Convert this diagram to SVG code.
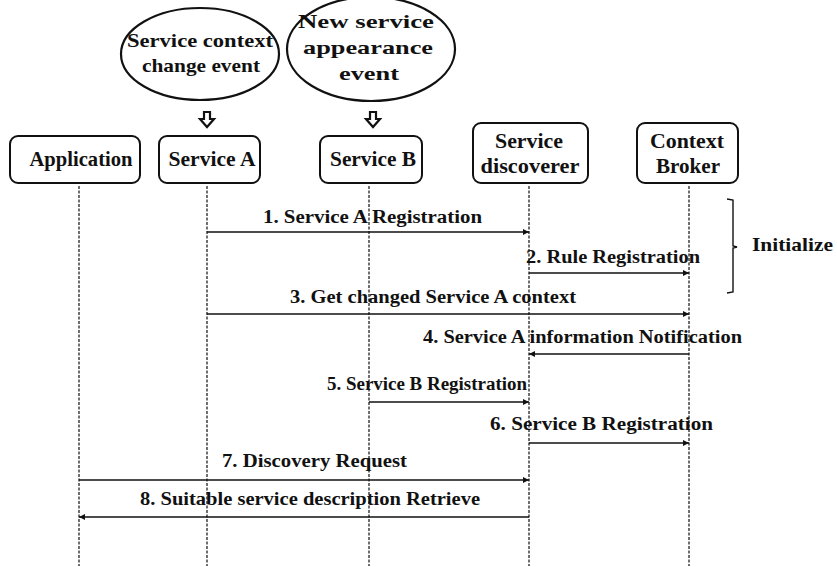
<svg xmlns="http://www.w3.org/2000/svg" width="837" height="567" viewBox="0 0 837 567">
<defs>
<style>
text{font-family:'Liberation Serif','Times New Roman',Times,'Nimbus Roman','Nimbus Roman No9 L',Tinos,FreeSerif,'Noto Serif','DejaVu Serif',serif;font-weight:bold;fill:#111;}
.n{font-size:20px;text-anchor:middle;}
.e{font-size:19px;text-anchor:middle;}
.m{font-size:18px;}
.box{fill:#fff;stroke:#111;stroke-width:2;}
.ell{fill:#fff;stroke:#111;stroke-width:2.2;}
.life{stroke:#222;stroke-width:1.3;stroke-dasharray:3 1.5;fill:none;}
.msg{stroke:#111;stroke-width:1.3;fill:none;marker-end:url(#ah);}
.blk{fill:#fff;stroke:#111;stroke-width:2.2;stroke-linejoin:miter;}
</style>
<marker id="ah" viewBox="0 0 10 10" refX="10" refY="5" markerWidth="8" markerHeight="6" markerUnits="userSpaceOnUse" orient="auto">
<path d="M0,0 L10,5 L0,10 z" fill="#111"/>
</marker>
</defs>
<rect width="837" height="567" fill="#fff"/>

<g id="event-context">
<ellipse class="ell" cx="200" cy="54" rx="79" ry="46"/>
<text class="e" x="200" y="47" textLength="146" lengthAdjust="spacingAndGlyphs">Service context</text>
<text class="e" x="201" y="72" textLength="118" lengthAdjust="spacingAndGlyphs">change event</text>
</g>
<g id="event-newservice">
<ellipse class="ell" cx="371" cy="49" rx="84" ry="52"/>
<text class="e" x="366" y="28" textLength="136" lengthAdjust="spacingAndGlyphs">New service</text>
<text class="e" x="368" y="54" textLength="130" lengthAdjust="spacingAndGlyphs">appearance</text>
<text class="e" x="369" y="80" textLength="60" lengthAdjust="spacingAndGlyphs">event</text>
</g>
<g id="trigger-arrows">
<path class="blk" d="M204,112 L210,112 L210,119 L214,119 L207,127 L200,119 L204,119 Z"/>
<path class="blk" d="M370,112 L376,112 L376,119 L380,119 L373,127 L366,119 L370,119 Z"/>
</g>

<g id="lifelines">
<line class="life" x1="79" y1="186" x2="79" y2="566"/>
<line class="life" x1="207" y1="186" x2="207" y2="566"/>
<line class="life" x1="369" y1="186" x2="369" y2="566"/>
<line class="life" x1="529" y1="186" x2="529" y2="566"/>
<line class="life" x1="689" y1="186" x2="689" y2="566"/>
</g>

<g id="application">
<rect class="box" x="10" y="136" width="130" height="47" rx="8"/>
<text class="n" x="81" y="166" textLength="103" lengthAdjust="spacingAndGlyphs">Application</text>
</g>
<g id="service-a">
<rect class="box" x="159" y="136" width="101" height="47" rx="8"/>
<text class="n" x="212" y="166" textLength="87" lengthAdjust="spacingAndGlyphs">Service A</text>
</g>
<g id="service-b">
<rect class="box" x="320" y="136" width="102" height="47" rx="8"/>
<text class="n" x="373" y="166" textLength="86" lengthAdjust="spacingAndGlyphs">Service B</text>
</g>
<g id="service-discoverer">
<rect class="box" x="473" y="123" width="115" height="60" rx="8"/>
<text class="n" x="529" y="148" textLength="68" lengthAdjust="spacingAndGlyphs">Service</text>
<text class="n" x="530" y="173" textLength="99" lengthAdjust="spacingAndGlyphs">discoverer</text>
</g>
<g id="context-broker">
<rect class="box" x="637" y="123" width="101" height="60" rx="8"/>
<text class="n" x="687" y="148" textLength="74" lengthAdjust="spacingAndGlyphs">Context</text>
<text class="n" x="688" y="173" textLength="64" lengthAdjust="spacingAndGlyphs">Broker</text>
</g>

<g id="messages">
<line class="msg" x1="207" y1="232" x2="529" y2="232"/>
<line class="msg" x1="529" y1="273" x2="689" y2="273"/>
<line class="msg" x1="207" y1="314" x2="689" y2="314"/>
<line class="msg" x1="689" y1="354" x2="529" y2="354"/>
<line class="msg" x1="369" y1="402" x2="529" y2="402"/>
<line class="msg" x1="529" y1="443" x2="689" y2="443"/>
<line class="msg" x1="79" y1="480" x2="529" y2="480"/>
<line class="msg" x1="529" y1="517" x2="79" y2="517"/>
</g>
<g id="message-labels">
<text class="m" x="263" y="223" textLength="219" lengthAdjust="spacingAndGlyphs">1.  Service A Registration</text>
<text class="m" x="526" y="263" textLength="174" lengthAdjust="spacingAndGlyphs">2. Rule Registration</text>
<text class="m" x="290" y="303" textLength="286" lengthAdjust="spacingAndGlyphs">3. Get changed Service A context</text>
<text class="m" x="423" y="343" textLength="319" lengthAdjust="spacingAndGlyphs">4. Service A information Notification</text>
<text class="m" x="327" y="390" textLength="200" lengthAdjust="spacingAndGlyphs">5.  Service B Registration</text>
<text class="m" x="490" y="430" textLength="223" lengthAdjust="spacingAndGlyphs">6.  Service B Registration</text>
<text class="m" x="222" y="467" textLength="185" lengthAdjust="spacingAndGlyphs">7. Discovery Request</text>
<text class="m" x="140" y="505" textLength="340" lengthAdjust="spacingAndGlyphs">8. Suitable service description Retrieve</text>
</g>

<g id="initialize">
<path d="M727,199 L733,200 L733,246 L737,247 L733,248 L733,292 L727,293" fill="none" stroke="#111" stroke-width="1.4"/>
<text x="752" y="251" font-size="19" textLength="81" lengthAdjust="spacingAndGlyphs">Initialize</text>
</g>
</svg>
